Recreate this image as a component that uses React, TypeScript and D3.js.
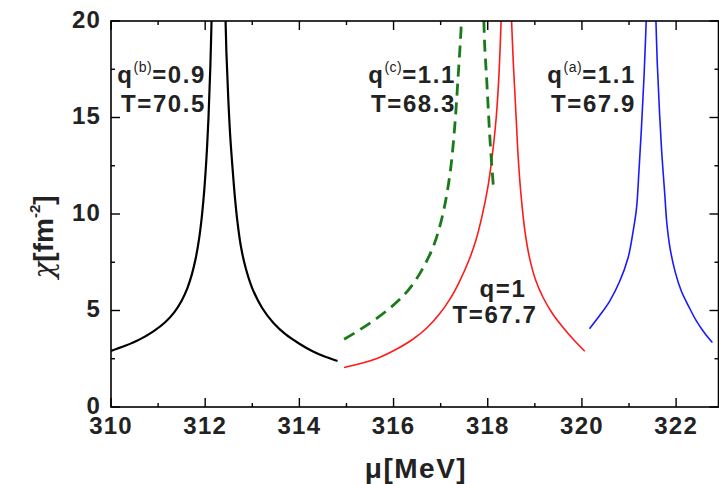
import React from "react";
import * as d3 from "d3";

// Susceptibility chi versus chemical potential mu near the critical point.
// Each curve is stored as two branches (left and right of the divergence).
const blackLeftMu = [310, 310.3, 310.6, 310.9, 311.15, 311.35, 311.5, 311.62, 311.72, 311.8, 311.87, 311.93, 311.98, 312.03, 312.07, 312.11, 312.15];
const blackLeftChi = [2.91, 3.17, 3.49, 3.92, 4.39, 4.93, 5.51, 6.15, 6.9, 7.72, 8.71, 9.89, 11.22, 13.04, 14.98, 17.67, 21.6];
const blackRightMu = [312.42, 312.45, 312.49, 312.53, 312.58, 312.63, 312.68, 312.76, 312.86, 313.0, 313.21, 313.45, 313.71, 314.0, 314.28, 314.55, 314.81];
const blackRightChi = [21.5, 18.4, 16.0, 14.1, 12.4, 10.9, 9.7, 8.3, 7.2, 6.15, 5.13, 4.35, 3.76, 3.28, 2.89, 2.6, 2.38];

const greenLeftMu = [314.95, 315.25, 315.56, 315.9, 316.19, 316.45, 316.69, 316.85, 316.97, 317.07, 317.15, 317.22, 317.27, 317.32, 317.36, 317.42, 317.47];
const greenLeftChi = [3.51, 3.95, 4.45, 5.08, 5.72, 6.5, 7.5, 8.35, 9.25, 10.25, 11.3, 12.5, 13.7, 15.2, 16.7, 19.0, 21.3];
const greenRightMu = [317.91, 317.93, 317.98, 318.05, 318.12];
const greenRightChi = [21, 19, 16.86, 13.76, 11.4];

const redLeftMu = [314.95, 315.3, 315.7, 316.05, 316.41, 316.7, 316.97, 317.2, 317.4, 317.6, 317.75, 317.88, 318.0, 318.1, 318.18, 318.24, 318.29];
const redLeftChi = [2.05, 2.25, 2.57, 2.98, 3.51, 4.08, 4.8, 5.6, 6.5, 7.6, 8.65, 9.9, 11.35, 13.1, 15.0, 17.3, 20.5];
const redRightMu = [318.49, 318.54, 318.6, 318.65, 318.71, 318.79, 318.89, 319.02, 319.17, 319.38, 319.6, 319.83, 320.06];
const redRightChi = [21, 18, 15.14, 12.8, 10.9, 9.1, 7.7, 6.55, 5.7, 4.82, 4.12, 3.47, 2.89];

const blueLeftMu = [320.16, 320.38, 320.59, 320.8, 320.98, 321.08, 321.16, 321.21, 321.26, 321.32, 321.38];
const blueLeftChi = [4.05, 4.75, 5.49, 6.5, 7.73, 9.0, 10.32, 12.2, 14.28, 17.2, 21];
const blueRightMu = [321.56, 321.6, 321.65, 321.7, 321.76, 321.8, 321.87, 321.98, 322.11, 322.27, 322.43, 322.6, 322.77];
const blueRightChi = [21, 17.8, 15.14, 13.0, 11.0, 9.6, 8.25, 7.0, 6.01, 5.2, 4.46, 3.85, 3.34];

const muTicks = [310, 312, 314, 316, 318, 320, 322];
const muMinorTicks = [311, 313, 315, 317, 319, 321];
const chiTicks = [0, 5, 10, 15, 20];
const chiMinorTicks = [2.5, 7.5, 12.5, 17.5];

const W = 719;
const H = 484;
const left = 111;
const right = 718.5;
const top = 21;
const bottom = 407;

const FONT = "'Liberation Sans', Arial, Helvetica, sans-serif";

export default function App() {
  const x = d3.scaleLinear().domain([310, 322.9]).range([left, right]);
  const y = d3.scaleLinear().domain([0, 20]).range([bottom, top]);

  const line = d3
    .line<[number, number]>()
    .x((d) => x(d[0]))
    .y((d) => y(d[1]))
    .curve(d3.curveCatmullRom.alpha(0.5));

  const pair = (mu: number[], chi: number[]) => mu.map((m, i) => [m, chi[i]] as [number, number]);

  const curves = [
    { branches: [pair(blackLeftMu, blackLeftChi), pair(blackRightMu, blackRightChi)], color: "#000000", width: 2.2, dash: undefined as string | undefined },
    { branches: [pair(redLeftMu, redLeftChi), pair(redRightMu, redRightChi)], color: "#ff1a1a", width: 1.6, dash: undefined },
    { branches: [pair(blueLeftMu, blueLeftChi), pair(blueRightMu, blueRightChi)], color: "#1a1aff", width: 1.6, dash: undefined },
    { branches: [pair(greenLeftMu, greenLeftChi), pair(greenRightMu, greenRightChi)], color: "#1a7a1a", width: 2.8, dash: "12,7" },
  ];

  const majorLen = 9;
  const minorLen = 4;

  return (
    <svg
      width={W}
      height={H}
      viewBox={`0 0 ${W} ${H}`}
      style={{ position: "absolute", left: 0, top: 0, background: "#fff" }}
      fontFamily={FONT}
    >
      <defs>
        <clipPath id="plot-clip">
          <rect x={left} y={top} width={right - left} height={bottom - top} />
        </clipPath>
      </defs>

      {/* curves */}
      <g clipPath="url(#plot-clip)" fill="none">
        {curves.map((c, i) =>
          c.branches.map((b, j) => (
            <path
              key={`${i}-${j}`}
              d={line(b) || ""}
              stroke={c.color}
              strokeWidth={c.width}
              strokeDasharray={c.dash}
              strokeLinejoin="round"
            />
          ))
        )}
      </g>

      {/* frame */}
      <rect x={left} y={top} width={right - left} height={bottom - top} fill="none" stroke="#000" strokeWidth={1.6} />

      {/* ticks point inward and are mirrored on the opposite sides */}
      <g stroke="#000" strokeWidth={1.4}>
        {muTicks.map((t) => (
          <g key={`mx${t}`}>
            <line x1={x(t)} x2={x(t)} y1={bottom} y2={bottom - majorLen} />
            <line x1={x(t)} x2={x(t)} y1={top} y2={top + majorLen} />
          </g>
        ))}
        {muMinorTicks.map((t) => (
          <g key={`nx${t}`}>
            <line x1={x(t)} x2={x(t)} y1={bottom} y2={bottom - minorLen} />
            <line x1={x(t)} x2={x(t)} y1={top} y2={top + minorLen} />
          </g>
        ))}
        {chiTicks.map((t) => (
          <g key={`my${t}`}>
            <line x1={left} x2={left + majorLen} y1={y(t)} y2={y(t)} />
            <line x1={right} x2={right - majorLen} y1={y(t)} y2={y(t)} />
          </g>
        ))}
        {chiMinorTicks.map((t) => (
          <g key={`ny${t}`}>
            <line x1={left} x2={left + minorLen} y1={y(t)} y2={y(t)} />
            <line x1={right} x2={right - minorLen} y1={y(t)} y2={y(t)} />
          </g>
        ))}
      </g>

      {/* tick labels */}
      <g fontWeight="bold" fontSize={24} fill="#222" letterSpacing={1.2}>
        {muTicks.map((t) => (
          <text key={`lx${t}`} x={x(t)} y={434} textAnchor="middle">
            {t}
          </text>
        ))}
        {chiTicks.map((t) => (
          <text key={`ly${t}`} x={101} y={y(t) + 6.5} textAnchor="end">
            {t}
          </text>
        ))}
      </g>

      {/* axis titles */}
      <text x={416} y={478} textAnchor="middle" fontWeight="bold" fontSize={28} fill="#222" letterSpacing={1.5}>
        μ[MeV]
      </text>
      <text transform={`translate(53, 237) rotate(-90)`} textAnchor="middle" fontSize={28} fill="#222">
        <tspan fontFamily="'DejaVu Serif', serif" fontStyle="italic">χ</tspan>
        <tspan fontWeight="bold">[fm</tspan>
        <tspan fontWeight="bold" fontSize={15} dy={-13}>-2</tspan>
        <tspan fontWeight="bold" dy={13}>]</tspan>
      </text>

      {/* curve annotations */}
      <g fontWeight="bold" fontSize={24} fill="#222" letterSpacing={1.6}>
        <text x={206} y={83} textAnchor="end">
          <tspan>q</tspan>
          <tspan fontSize={14} fontWeight="normal" letterSpacing={0.5} dy={-11}>(b)</tspan>
          <tspan dy={11}>=0.9</tspan>
        </text>
        <text x={206} y={112} textAnchor="end">T=70.5</text>

        <text x={456} y={83} textAnchor="end">
          <tspan>q</tspan>
          <tspan fontSize={14} fontWeight="normal" letterSpacing={0.5} dy={-11}>(c)</tspan>
          <tspan dy={11}>=1.1</tspan>
        </text>
        <text x={456} y={112} textAnchor="end">T=68.3</text>

        <text x={636} y={83} textAnchor="end">
          <tspan>q</tspan>
          <tspan fontSize={14} fontWeight="normal" letterSpacing={0.5} dy={-11}>(a)</tspan>
          <tspan dy={11}>=1.1</tspan>
        </text>
        <text x={636} y={112} textAnchor="end">T=67.9</text>

        <text x={503} y={297} textAnchor="middle">q=1</text>
        <text x={495} y={323} textAnchor="middle">T=67.7</text>
      </g>
    </svg>
  );
}
